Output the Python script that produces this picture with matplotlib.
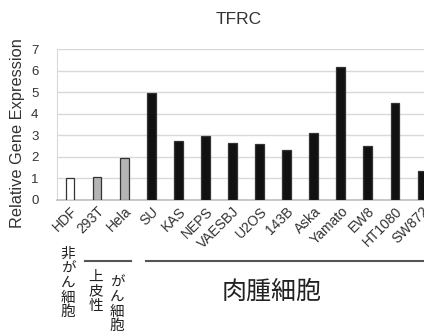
import matplotlib
matplotlib.use("Agg")
import matplotlib.pyplot as plt
import matplotlib.transforms as mtransforms

categories = ["HDF", "293T", "Hela", "SU", "KAS", "NEPS", "VAESBJ", "U2OS",
              "143B", "Aska", "Yamato", "EW8", "HT1080", "SW872"]
values = [1.0, 1.05, 1.95, 4.97, 2.75, 2.97, 2.66, 2.58, 2.30, 3.12, 6.18,
          2.52, 4.50, 1.33]
fills = ["#ffffff", "#b4b4b4", "#b4b4b4"] + ["#111111"] * 11
yticks = [0, 1, 2, 3, 4, 5, 6, 7]

plt.rcParams['font.family'] = ['Liberation Sans', 'DejaVu Sans']
jp = ['Noto Sans CJK JP', 'DejaVu Sans']

fig = plt.figure(figsize=(4.24, 3.33), dpi=100)
ax = fig.add_axes([56.5 / 424, 133 / 333, 379 / 424, 151 / 333])

x = list(range(len(categories)))
ax.bar(x, values, width=0.32, color=fills, edgecolor="#333333", linewidth=0.9,
       zorder=3)
ax.set_xlim(-0.5, 13.5)
ax.set_ylim(0, 7)
ax.set_yticks(yticks)
ax.set_yticklabels([str(t) for t in yticks], fontsize=9.5, color="#333333")
ax.yaxis.grid(True, color="#d9d9d9", linewidth=1.0, zorder=0)
ax.set_axisbelow(True)
ax.tick_params(axis="both", length=0)
ax.tick_params(axis="y", pad=13)
ax.set_xticks(x)
ax.set_xticklabels(categories, rotation=45, ha="right", rotation_mode="anchor",
                   fontsize=10, color="#333333")
ax.tick_params(axis="x", pad=3)
for s in ["top", "right"]:
    ax.spines[s].set_visible(False)
ax.spines["left"].set_color("#d9d9d9")
ax.spines["bottom"].set_color("#bfbfbf")
ax.spines["bottom"].set_linewidth(1.2)

fig.text(18 / 424, 1 - 133 / 333, "Relative Gene Expression", fontsize=11.8,
         color="#333333", rotation=90, ha="center", va="center")
fig.text(239 / 424, 1 - 19 / 333, "TFRC", fontsize=12.5, color="#333333",
         ha="center", va="center")

trans = mtransforms.blended_transform_factory(ax.transData, ax.transAxes)
ax.plot([0.55, 2.25], [-0.404, -0.404], color="#555555", linewidth=1.5,
        transform=trans, clip_on=False)
ax.plot([2.8, 14.0], [-0.404, -0.404], color="#555555", linewidth=1.5,
        transform=trans, clip_on=False)

def vtext(xd, ytop, s, size=10.5):
    ax.text(xd, ytop, "\n".join(s), transform=trans, ha="center", va="top",
            fontsize=size, family=jp, linespacing=1.05, color="#222222",
            clip_on=False)

vtext(-0.07, -0.31, "非がん細胞")
vtext(0.96, -0.46, "上皮性")
vtext(1.74, -0.50, "がん細胞")
ax.text(7.46, -0.609, "肉腫細胞", transform=trans, ha="center", va="center",
        fontsize=18, family=jp, color="#222222", clip_on=False)

fig.savefig("out.png", dpi=100)
